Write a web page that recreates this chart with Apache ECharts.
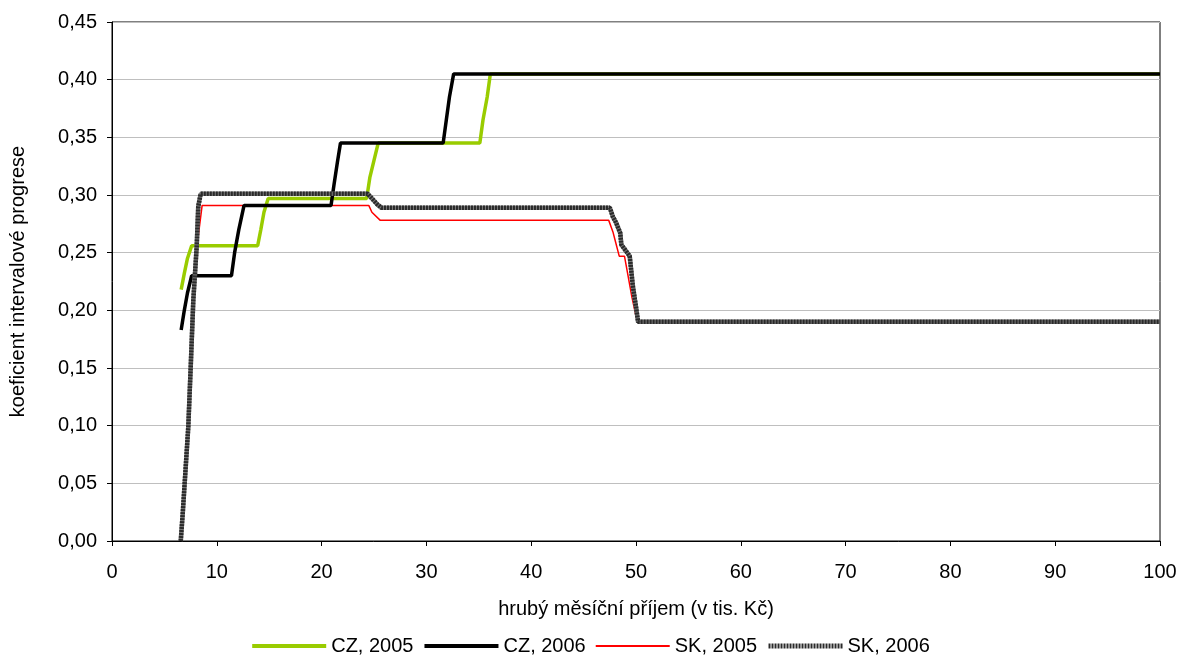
<!DOCTYPE html>
<html>
<head>
<meta charset="utf-8">
<script src="https://cdn.jsdelivr.net/npm/echarts@6/dist/echarts.min.js"></script>
<style>
html,body{margin:0;padding:0;background:#fff;}
#c{width:1180px;height:656px;}
</style>
</head>
<body>
<div id="c"></div>
<script>
var seriesNames = ['CZ, 2005', 'CZ, 2006', 'SK, 2005', 'SK, 2006'];

var cz2005X = [6.6, 6.9, 7.2, 7.6, 13.9, 14.2, 14.5, 14.9, 24.3, 24.6, 25.0, 25.4, 35.1, 35.4, 35.8, 36.1, 100];
var cz2005Y = [0.218, 0.232, 0.245, 0.256, 0.256, 0.270, 0.285, 0.297, 0.297, 0.315, 0.330, 0.345, 0.345, 0.365, 0.385, 0.405, 0.405];

var cz2006X = [6.6, 6.9, 7.2, 7.6, 11.4, 11.7, 12.1, 12.6, 20.9, 21.2, 21.5, 21.8, 31.6, 31.9, 32.2, 32.6, 100];
var cz2006Y = [0.183, 0.200, 0.215, 0.230, 0.230, 0.250, 0.270, 0.291, 0.291, 0.310, 0.328, 0.345, 0.345, 0.365, 0.385, 0.405, 0.405];

var sk2005X = [6.6, 6.75, 7.3, 7.5, 7.8, 8.1, 8.6, 24.5, 24.8, 25.6, 47.4, 47.8, 48.0, 48.4, 48.9, 49.2, 49.6, 50.0, 50.2, 100];
var sk2005Y = [0, 0.024, 0.099, 0.151, 0.209, 0.255, 0.291, 0.291, 0.285, 0.278, 0.278, 0.268, 0.261, 0.247, 0.247, 0.232, 0.212, 0.195, 0.190, 0.190];

var sk2006X = [6.56, 6.75, 7.28, 7.51, 7.76, 8.08, 8.23, 8.46, 24.4, 24.8, 25.3, 25.7, 47.5, 47.8, 48.1, 48.5, 48.6, 49.4, 49.7, 50.0, 50.2, 100];
var sk2006Y = [0, 0.024, 0.099, 0.151, 0.209, 0.255, 0.290, 0.301, 0.301, 0.297, 0.292, 0.289, 0.289, 0.281, 0.276, 0.267, 0.257, 0.247, 0.221, 0.203, 0.190, 0.190];

var xTicks = [0, 10, 20, 30, 40, 50, 60, 70, 80, 90, 100];
var yTicks = [0, 0.05, 0.10, 0.15, 0.20, 0.25, 0.30, 0.35, 0.40, 0.45];

function pairs(xs, ys) { return xs.map(function (x, i) { return [x, ys[i]]; }); }

var FONT = '"Liberation Sans", Arial, sans-serif';
var FS = 20;
var chart = echarts.init(document.getElementById('c'), null, {renderer: 'canvas'});
chart.setOption({
  animation: false,
  backgroundColor: '#fff',
  textStyle: {fontFamily: FONT},
  grid: {left: 112, right: 20, top: 22, bottom: 115, show: true, borderColor: '#000', borderWidth: 1, backgroundColor: 'transparent'},
  legend: {
    data: [
      {name: seriesNames[0], lineStyle: {width: 4}},
      {name: seriesNames[1], lineStyle: {width: 4}},
      {name: seriesNames[2], lineStyle: {width: 2}},
      {name: seriesNames[3], lineStyle: {width: 5}}
    ],
    top: 631,
    left: 'center',
    itemWidth: 74,
    itemHeight: 14,
    itemGap: 9,
    itemStyle: {opacity: 0},
    textStyle: {fontFamily: FONT, fontSize: FS, color: '#000'}
  },
  xAxis: {
    type: 'value',
    min: xTicks[0],
    max: xTicks[xTicks.length - 1],
    interval: xTicks[1] - xTicks[0],
    name: 'hrubý měsíční příjem (v tis. Kč)',
    nameLocation: 'middle',
    nameGap: 58,
    nameTextStyle: {fontFamily: FONT, fontSize: FS, color: '#000'},
    axisLine: {show: true, lineStyle: {color: '#000', width: 1}},
    axisTick: {show: true, length: 5, lineStyle: {color: '#000'}},
    axisLabel: {fontFamily: FONT, fontSize: FS, color: '#000', margin: 21},
    splitLine: {show: false}
  },
  yAxis: {
    type: 'value',
    min: yTicks[0],
    max: yTicks[yTicks.length - 1],
    interval: 0.05,
    name: 'koeficient intervalové progrese',
    nameLocation: 'middle',
    nameGap: 84,
    nameTextStyle: {fontFamily: FONT, fontSize: FS, color: '#000'},
    axisLine: {show: true, lineStyle: {color: '#000', width: 1}},
    axisTick: {show: true, length: 5, lineStyle: {color: '#000'}},
    axisLabel: {fontFamily: FONT, fontSize: FS, color: '#000', margin: 15,
      formatter: function (v) { return v.toFixed(2).replace('.', ','); }},
    splitLine: {show: true, lineStyle: {color: '#bfbfbf', width: 1}}
  },
  series: [
    {name: seriesNames[0], type: 'line', z: 1, symbol: 'none', data: pairs(cz2005X, cz2005Y),
     lineStyle: {color: '#99cc00', width: 3.5}, itemStyle: {color: '#99cc00'}},
    {name: seriesNames[1], type: 'line', z: 3, symbol: 'none', data: pairs(cz2006X, cz2006Y),
     lineStyle: {color: '#000000', width: 3.5}, itemStyle: {color: '#000000'}},
    {name: seriesNames[2], type: 'line', z: 2, symbol: 'none', data: pairs(sk2005X, sk2005Y),
     lineStyle: {color: '#ff0000', width: 1.5}, itemStyle: {color: '#ff0000'}},
    {name: 'SK, 2006 base', type: 'line', z: 4, symbol: 'none', data: pairs(sk2006X, sk2006Y),
     lineStyle: {color: '#7a7a7a', width: 4.5}, itemStyle: {color: '#7a7a7a'}, silent: true},
    {name: seriesNames[3], type: 'line', z: 5, symbol: 'none', data: pairs(sk2006X, sk2006Y),
     lineStyle: {color: '#2a2a2a', width: 4.5, type: [2, 1]}, itemStyle: {color: '#2a2a2a'}}
  ]
});
</script>
</body>
</html>
